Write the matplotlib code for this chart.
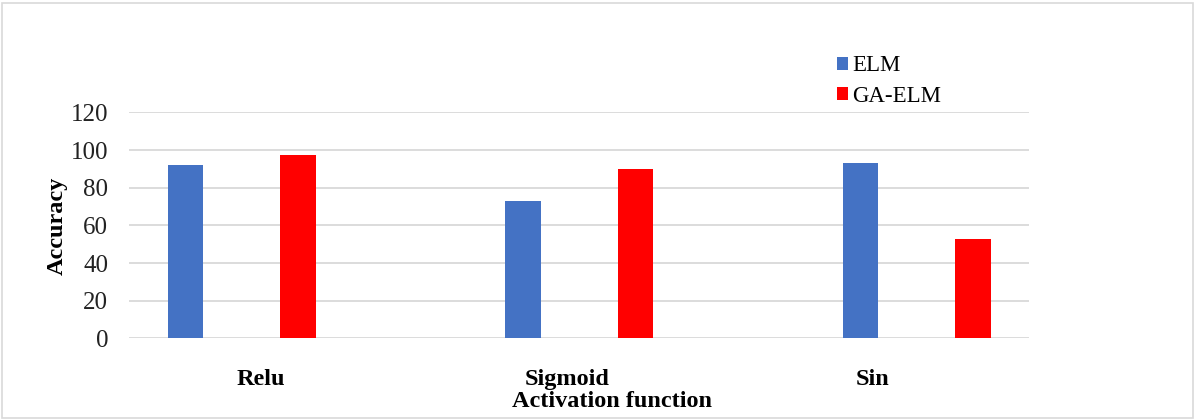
import numpy as np
import matplotlib
matplotlib.use('Agg')
import matplotlib.pyplot as plt

plt.rcParams['font.family'] = ['Liberation Serif', 'DejaVu Serif']

# data
categories = ['Relu', 'Sigmoid', 'Sin']
elm = [92, 73, 93]
ga_elm = [97.5, 90, 52.5]
y_ticks = [0, 20, 40, 60, 80, 100, 120]

fig = plt.figure(figsize=(11.95, 4.19), dpi=100)
ax = fig.add_axes([0.108, 0.1926, 0.753, 0.539])

# bar placement (the original is a bit uneven between bars and labels)
idx = np.arange(len(categories))
x_elm = idx * 1.125 - 0.312
x_ga = x_elm + 0.375
w = 0.118

b1 = ax.bar(x_elm, elm, width=w, color='#4472C4', label='ELM', zorder=3)
b2 = ax.bar(x_ga, ga_elm, width=w, color='#FF0000', label='GA-ELM', zorder=3)

ax.set_xlim(-0.5, 2.5)
ax.set_ylim(0, 120)
ax.set_yticks(y_ticks)
ax.set_yticklabels([str(v) for v in y_ticks], fontsize=18, color='#222222')
ax.yaxis.grid(True, color='#D9D9D9', lw=1.3, zorder=0)
ax.tick_params(axis='y', length=0, pad=15)

ax.set_xticks(idx * 1.02 - 0.06)
ax.set_xticklabels(categories, fontsize=17.5, fontweight='bold')
ax.tick_params(axis='x', length=0, pad=22)

for s in ax.spines.values():
    s.set_visible(False)

ax.set_ylabel('Accuracy', fontsize=17.5, fontweight='bold', labelpad=2)
ax.set_xlabel('Activation function', fontsize=17.5, fontweight='bold', labelpad=1)
ax.xaxis.label.set_x(0.537)

ax.legend(handles=[b1, b2], loc='upper left', bbox_to_anchor=(0.700, 0.868),
          bbox_transform=fig.transFigure, frameon=False, fontsize=16.5,
          handlelength=0.5, handleheight=0.5, handletextpad=0.2,
          labelspacing=0.42, borderpad=0, borderaxespad=0)

# light chart-area border
fig.patches.append(plt.Rectangle((0.002, 0.003), 0.996, 0.99, transform=fig.transFigure,
                                 fill=False, ec='#D9D9D9', lw=1.2))

fig.savefig('out.png', dpi=100)
